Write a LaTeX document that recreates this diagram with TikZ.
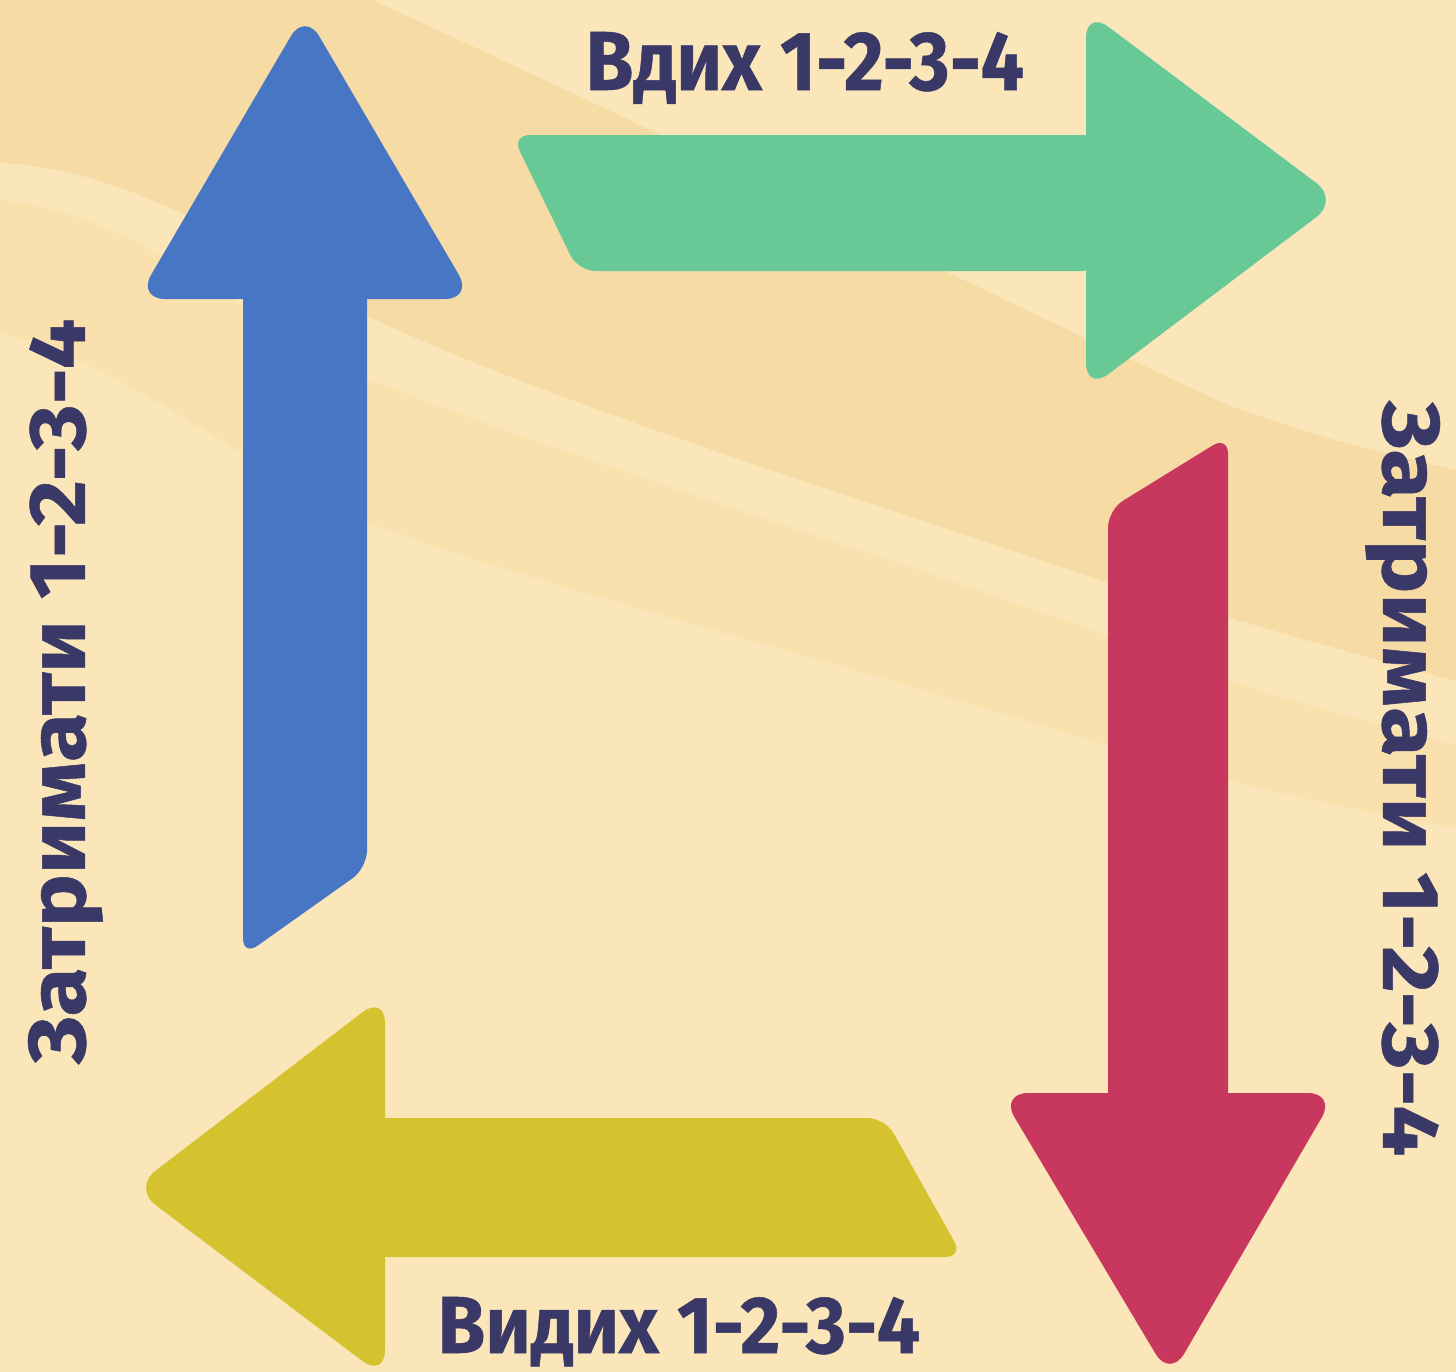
\documentclass[tikz,border=0pt]{standalone}
\usepackage{fontspec}
\setmainfont{Fira Sans}[BoldFeatures={FakeBold=0.6}]
\usepackage{graphicx}
\definecolor{bgbase}{HTML}{FBE6B9}
\definecolor{bgdark}{HTML}{F7DBA5}
\definecolor{bgmid}{HTML}{F9E0AD}
\definecolor{arblue}{HTML}{4676C4}
\definecolor{argreen}{HTML}{68C996}
\definecolor{arred}{HTML}{C8385E}
\definecolor{aryellow}{HTML}{D4C22E}
\definecolor{txtnavy}{HTML}{3A3866}
\newcommand{\mylabel}[3]{\resizebox{#1}{#2}{\bfseries #3}}
\tikzset{
  headshape/.style={rounded corners=8pt},
  shaftshape/.style={rounded corners=5pt},
  lbltext/.style={inner sep=0pt, text=txtnavy, anchor=base west}
}
\begin{document}
\begin{tikzpicture}[x=0.01cm,y=-0.01cm]
\useasboundingbox (0,0) rectangle (1456,1372);
% background
\fill[bgbase] (0,0) rectangle (1456,1372);
\fill[bgdark] (0,0) -- (372,0) .. controls (700,150) and (1000,300) .. (1230,406)
  .. controls (1330,440) .. (1456,470) -- (1456,681)
  .. controls (1320,645) and (1220,615) .. (1100,580)
  .. controls (800,480) and (520,390) .. (370,317)
  .. controls (250,250) and (130,168) .. (0,163) -- cycle;
\fill[bgmid] (0,200) .. controls (150,215) and (250,330) .. (370,380)
  .. controls (600,470) and (900,560) .. (1100,633)
  .. controls (1250,690) .. (1456,745) -- (1456,828)
  .. controls (1300,800) and (1200,775) .. (1100,743)
  .. controls (800,650) and (550,590) .. (370,523)
  .. controls (250,470) and (120,360) .. (0,333) -- cycle;
% blue arrow (up)
\fill[arblue, headshape] (305,12) -- (473,299) -- (137,299) -- cycle;
\fill[arblue, shaftshape] (243,280) -- (367,280) -- (367,868) -- (243,956) -- cycle;
% green arrow (right)
\fill[argreen, headshape] (1086,10) -- (1339,200) -- (1086,391) -- cycle;
\fill[argreen, shaftshape] (512,135) -- (1100,135) -- (1100,271) -- (578,271) -- cycle;
% red arrow (down)
\fill[arred, headshape] (1336,1093) -- (1170,1378) -- (1000,1093) -- cycle;
\fill[arred, shaftshape] (1228,436) -- (1228,1110) -- (1108,1110) -- (1108,510) -- cycle;
% yellow arrow (left)
\fill[aryellow, headshape] (385,1378) -- (133,1188) -- (385,995) -- cycle;
\fill[aryellow, shaftshape] (963,1257) -- (370,1257) -- (370,1118) -- (885,1118) -- cycle;
% labels
\node[lbltext] (inhale) at (585,90) {\mylabel{4.38cm}{0.58cm}{Вдих 1-2-3-4}};
\node[lbltext] (exhale) at (437,1353) {\mylabel{4.82cm}{0.56cm}{Видих 1-2-3-4}};
\node[lbltext, rotate=90] (holdleft) at (85,1065) {\mylabel{7.45cm}{0.57cm}{Затримати 1-2-3-4}};
\node[lbltext, rotate=-90] (holdright) at (1383,400) {\mylabel{7.55cm}{0.57cm}{Затримати 1-2-3-4}};
\end{tikzpicture}
\end{document}
